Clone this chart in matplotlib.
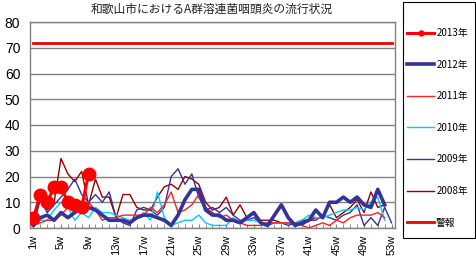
import matplotlib
matplotlib.use("Agg")
import matplotlib.pyplot as plt
from matplotlib.patches import Rectangle
import numpy as np

plt.rcParams['font.family'] = ['Noto Sans CJK JP', 'DejaVu Sans']

weeks_labels = [f"{w}w" for w in range(1, 54, 4)]

y2013 = [4, 13, 10, 16, 16, 10, 9, 8, 21]
y2012 = [1, 4, 5, 3, 6, 4, 6, 8, 8, 7, 5, 3, 3, 3, 2, 4, 5, 5, 4, 3,
         1, 5, 11, 15, 15, 7, 5, 5, 3, 3, 2, 4, 6, 2, 1, 5, 9, 4, 1, 2,
         3, 7, 4, 10, 10, 12, 10, 12, 9, 8, 15, 9]
y2011 = [1, 2, 3, 3, 5, 8, 10, 9, 10, 7, 3, 4, 4, 5, 5, 5, 5, 8, 6, 9,
         14, 6, 7, 9, 13, 8, 6, 4, 5, 3, 2, 1, 1, 1, 2, 2, 2, 2, 2, 1,
         0, 1, 2, 1, 3, 2, 4, 5, 5, 5, 6, 4]
y2010 = [2, 3, 3, 7, 10, 8, 3, 6, 4, 8, 6, 6, 5, 4, 3, 4, 6, 3, 14, 4,
         1, 2, 3, 3, 5, 2, 1, 1, 1, 4, 2, 3, 3, 2, 2, 2, 2, 2, 2, 3,
         5, 4, 4, 5, 6, 7, 7, 8, 7, 10, 12, 3]
y2009 = [1, 11, 6, 9, 12, 15, 19, 13, 10, 13, 10, 14, 4, 2, 1, 7, 8, 7, 5, 8,
         20, 23, 17, 21, 12, 7, 8, 6, 8, 5, 3, 3, 4, 2, 1, 2, 2, 1, 2, 1,
         3, 3, 5, 4, 3, 5, 6, 9, 1, 4, 1, 8, 2]
y2008 = [1, 13, 7, 10, 27, 21, 18, 22, 9, 19, 12, 12, 4, 13, 13, 8, 7, 7, 12, 16,
         17, 15, 20, 19, 17, 10, 7, 8, 12, 5, 9, 4, 6, 3, 3, 3, 2, 2, 2, 3,
         3, 4, 4, 9, 4, 6, 8, 11, 6, 14, 8, 9]
alarm = [72] * 53

fig = plt.figure(figsize=(4.76, 2.61), dpi=100)
ax = fig.add_axes([30/476, 1-228/261, 365/476, 206/261])

def wk(arr):
    return np.arange(1, len(arr) + 1)

ax.plot(wk(y2008), y2008, color='#990000', lw=1.0, label='2008年', zorder=2)
ax.plot(wk(y2009), y2009, color='#333399', lw=1.0, label='2009年', zorder=2)
ax.plot(wk(y2010), y2010, color='#00CCFF', lw=1.0, label='2010年', zorder=2)
ax.plot(wk(y2011), y2011, color='#FF2020', lw=1.0, label='2011年', zorder=2)
ax.plot(wk(y2012), y2012, color='#333399', lw=2.6, label='2012年', zorder=3)
ax.plot(wk(y2013), y2013, color='#FF0000', lw=2.2, marker='o', ms=9,
        label='2013年', zorder=4)
ax.plot(wk(alarm), alarm, color='#EE0000', lw=2.0, label='警報', zorder=4)

ax.set_xlim(0.5, 53.5)
ax.set_ylim(0, 80)
ax.set_yticks(range(0, 81, 10))
ax.set_yticklabels([str(v) for v in range(0, 81, 10)], fontsize=10,
                   family=['Liberation Sans', 'DejaVu Sans'])
ax.set_xticks(range(1, 54, 4))
ax.set_xticklabels(weeks_labels, rotation=90, fontsize=8,
                   family=['Liberation Sans', 'DejaVu Sans'])
ax.set_xticks(range(1, 54), minor=True)
ax.tick_params(axis='y', length=0, pad=7)
ax.tick_params(axis='x', which='both', direction='in', length=3,
               color='#808080', pad=5)
ax.grid(axis='y', color='#808080', lw=1.0)
ax.set_axisbelow(True)
for s in ax.spines.values():
    s.set_color('#808080')
    s.set_linewidth(1.0)

fig.text(212/476, 1-9/261, '和歌山市におけるA群溶連菌咽頭炎の流行状況',
         ha='center', va='center', fontsize=8.5, color='#222222')

fig.patches.append(Rectangle((403/476, 1-238/261), 72/476, 236/261,
                             transform=fig.transFigure, fill=False,
                             ec='black', lw=0.8))

h, l = ax.get_legend_handles_labels()
order = [5, 4, 3, 2, 1, 0, 6]
leg = fig.legend([h[i] for i in order], [l[i] for i in order],
                 loc='upper left', bbox_to_anchor=(407/476, 1-28/261),
                 fontsize=7, frameon=False,
                 labelspacing=2.22, handlelength=2.8,
                 handletextpad=0.2, borderpad=0, borderaxespad=0,
                 markerscale=0.4)

fig.savefig('out.png', dpi=100)
